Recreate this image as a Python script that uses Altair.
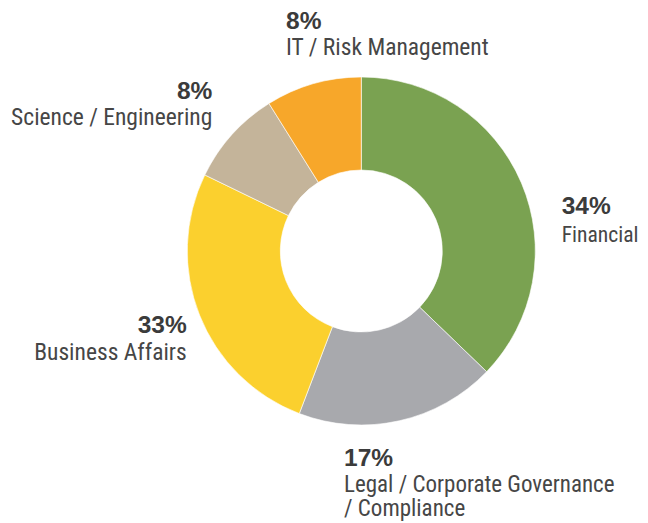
import altair as alt
import pandas as pd

# Data
categories = ["Financial", "Legal / Corporate Governance\n/ Compliance", "Business Affairs",
              "Science / Engineering", "IT / Risk Management"]
keys = ["fin", "legal", "bus", "sci", "it"]
# slice sizes as drawn (angles, in % of the circle)
slice_values = [37.2, 18.6, 26.4, 8.9, 8.9]
# printed percentage labels
pct_labels = ["34%", "17%", "33%", "8%", "8%"]
colors = ["#7AA251", "#A8A9AD", "#FBD02E", "#C4B49A", "#F7A72A"]

df = pd.DataFrame({
    "key": keys,
    "category": categories,
    "value": slice_values,
    "pct": pct_labels,
    "order": list(range(len(keys))),
})

W, H = 632, 514
CX, CY = 353.3, 243.0

base = alt.Chart(df)

donut = base.mark_arc(outerRadius=174, innerRadius=81, stroke="white", strokeWidth=0.6).encode(
    theta=alt.Theta("value:Q", stack=True),
    order=alt.Order("order:Q"),
    color=alt.Color("key:N", scale=alt.Scale(domain=keys, range=colors), legend=None),
    x=alt.value(CX),
    y=alt.value(CY),
)

NAME_FONT = "Roboto Condensed, Roboto, sans-serif"
PCT_FONT = "Liberation Sans, Arial, sans-serif"

# label placement: key -> (x, align, pct baseline y, name baseline y, name font size)
placement = {
    "it": (278, "left", 20.5, 47, 23.5),
    "sci": (204.3, "right", 91.3, 117, 23.5),
    "fin": (553.7, "left", 206.3, 234, 21.6),
    "bus": (178.7, "right", 325.3, 352, 23.5),
    "legal": (336, "left", 458, 484, 23),
}

layers = [donut]
for k, (x, align, ypct, yname, fs) in placement.items():
    sub = base.transform_filter(alt.datum.key == k)
    layers.append(
        sub.mark_text(align=align, baseline="alphabetic", font=PCT_FONT, fontSize=24.5,
                      fontWeight="bold", color="#3b3b3b").encode(
            text="pct:N", x=alt.value(x), y=alt.value(ypct))
    )
    layers.append(
        sub.mark_text(align=align, baseline="alphabetic", font=NAME_FONT, fontSize=fs,
                      color="#464646", lineBreak="\n", lineHeight=23.5).encode(
            text="category:N", x=alt.value(x), y=alt.value(yname))
    )

chart = alt.layer(*layers).properties(
    width=W, height=H, padding=0, autosize=alt.AutoSizeParams(type="none")
).configure_view(stroke=None)

chart.save("out.html", embed_options={"renderer": "svg", "actions": False})
